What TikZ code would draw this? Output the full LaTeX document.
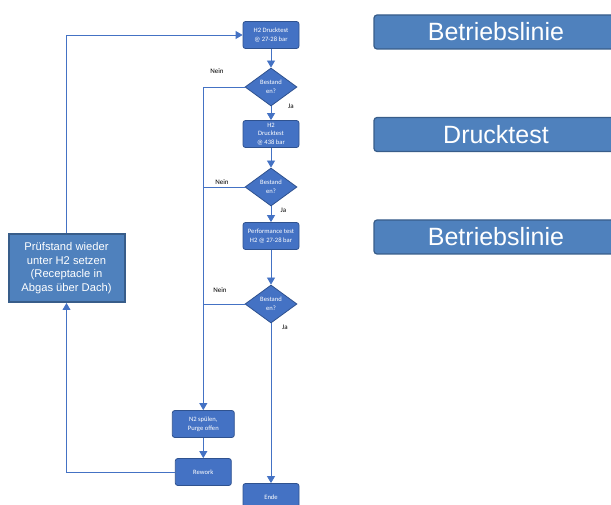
\documentclass[tikz,border=0pt]{standalone}
\usepackage{fontspec}
\setmainfont{Carlito}
\newfontfamily\arialfont{Liberation Sans}
\usetikzlibrary{shapes.geometric,arrows.meta}
\definecolor{stepblue}{HTML}{4472C4}
\definecolor{stepedge}{HTML}{2F528F}
\definecolor{bigblue}{HTML}{4F81BD}
\definecolor{bigedge}{HTML}{385D8A}
\tikzset{
	stepbox/.style={rectangle, rounded corners=2.5pt, draw=stepedge, line width=0.8pt, fill=stepblue, text=white, font=\fontsize{6.6}{8.6}\selectfont, align=center, minimum width=56pt, minimum height=27pt, inner sep=0pt},
	checkbox/.style={diamond, draw=stepedge, line width=0.8pt, fill=stepblue, text=white, font=\fontsize{6.6}{8.6}\selectfont, align=center, minimum width=52pt, minimum height=38pt, inner sep=0pt},
	flow/.style={draw=stepblue, line width=0.8pt},
	flowarrow/.style={flow, -{Triangle[width=8pt,length=7pt]}},
	answer/.style={font=\fontsize{7}{8}\selectfont, text=black, inner sep=0pt},
	phasebox/.style={rectangle, rounded corners=3pt, draw=bigedge, line width=1.2pt, fill=bigblue, text=white, font=\arialfont\fontsize{25}{27}\selectfont, minimum width=244pt, minimum height=34pt, inner sep=0pt},
	loopbox/.style={rectangle, draw=bigedge, line width=2pt, fill=bigblue, text=white, font=\arialfont\fontsize{11.2}{13.6}\selectfont, align=center, minimum width=116pt, minimum height=68pt, inner sep=0pt}
}
\begin{document}
\begin{tikzpicture}[x=1pt, y=-1pt]
			%%%%% START %%%%%
			\useasboundingbox (0, 0) rectangle (611, 505);
			
			\node[stepbox] (h2test) at (271, 35) {H2 Drucktest\\@ 27-28 bar};
			\node[checkbox] (check1) at (271, 87) {Bestand\\en?};
			\node[stepbox] (hightest) at (271, 134) {H2\\Drucktest\\@ 438 bar};
			\node[checkbox] (check2) at (271, 187) {Bestand\\en?};
			\node[stepbox] (perftest) at (271, 236) {Performance test\\H2 @ 27-28 bar};
			\node[checkbox] (check3) at (271, 304) {Bestand\\en?};
			\node[stepbox] (ende) at (271, 497) {Ende};
			
			\node[stepbox, minimum width=62pt] (purge) at (203.3, 424) {N2 spülen,\\Purge offen};
			\node[stepbox] (rework) at (203.3, 472) {Rework};
			\node[loopbox] (refill) at (66.5, 268) {Prüfstand wieder\\unter H2 setzen\\(Receptacle in\\Abgas über Dach)};
			
			\node[phasebox] (phase1) at (496, 32) {Betriebslinie};
			\node[phasebox] (phase2) at (496, 134.5) {Drucktest};
			\node[phasebox] (phase3) at (496, 237) {Betriebslinie};
			
			% main line
			\draw[flowarrow] (h2test) -- (check1);
			\draw[flowarrow] (check1) -- (hightest);
			\draw[flowarrow] (hightest) -- (check2);
			\draw[flowarrow] (check2) -- (perftest);
			\draw[flowarrow] (perftest) -- (check3);
			\draw[flowarrow] (check3) -- (ende);
			
			% failed branch
			\draw[flowarrow] (check1.west) -| (purge.north);
			\draw[flow] (check2.west) -- (check2.west -| purge.north);
			\draw[flow] (check3.west) -- (check3.west -| purge.north);
			\draw[flowarrow] (purge) -- (rework);
			\draw[flowarrow] (rework.west) -| (refill.south);
			\draw[flowarrow] (refill.north) |- (h2test.west);
			
			\node[answer] (nein1) at (217, 71) {Nein};
			\node[answer] (nein2) at (222, 182) {Nein};
			\node[answer] (nein3) at (220, 290) {Nein};
			\node[answer] (ja1) at (291, 106) {Ja};
			\node[answer] (ja2) at (283.5, 210) {Ja};
			\node[answer] (ja3) at (285, 327) {Ja};
			%%%%% END %%%%%
\end{tikzpicture}
\end{document}
